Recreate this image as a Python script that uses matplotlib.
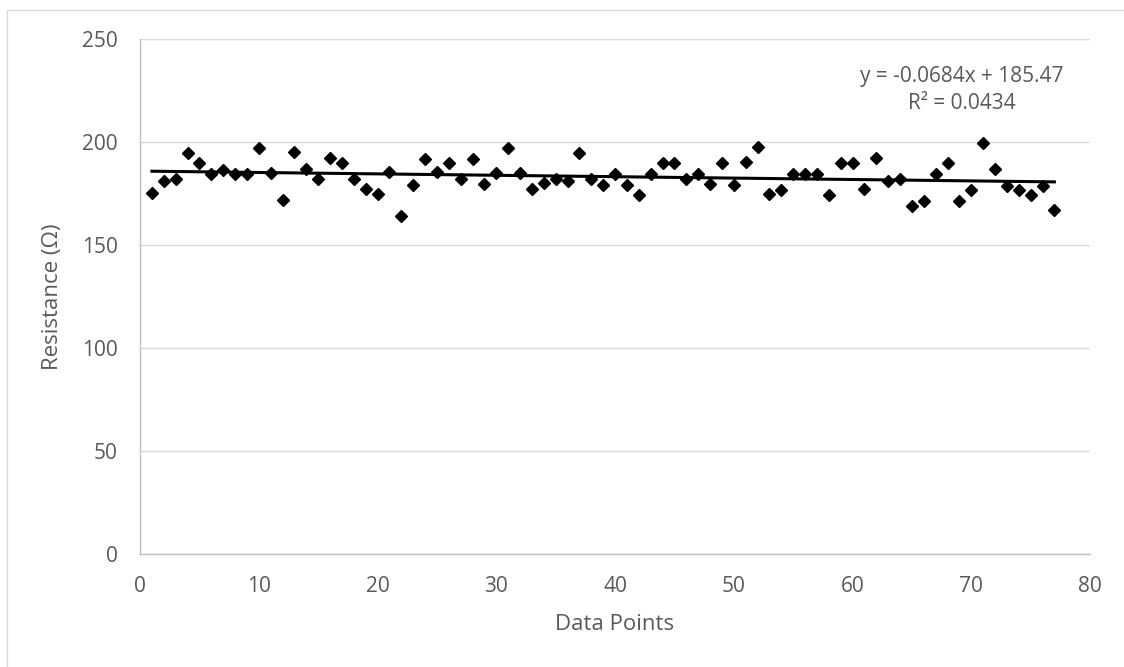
import numpy as np
import matplotlib.pyplot as plt
from matplotlib.patches import Rectangle

plt.rcParams['font.family'] = ['Open Sans', 'DejaVu Sans']

# readings
points = list(range(1, 78))
resistance = [
    175.0, 181.1, 181.8, 194.4, 189.9, 184.2, 186.3, 184.5, 184.2, 197.0,
    184.7, 171.7, 195.1, 187.0, 181.8, 192.0, 189.9, 181.8, 176.9, 174.5,
    185.3, 163.9, 179.3, 191.5, 185.3, 189.9, 182.1, 191.5, 179.7, 184.7,
    197.0, 184.7, 177.2, 180.2, 181.8, 181.1, 194.8, 182.1, 179.3, 184.2,
    179.3, 174.0, 184.5, 189.6, 189.6, 182.1, 184.5, 179.7, 189.9, 179.3,
    190.2, 197.5, 174.8, 176.6, 184.5, 184.5, 184.5, 174.3, 189.9, 189.9,
    176.9, 192.0, 180.9, 181.8, 168.8, 171.2, 184.5, 189.9, 171.5, 176.6,
    199.3, 186.6, 178.8, 176.6, 174.1, 178.8, 166.8,
]
x_ticks = [0, 10, 20, 30, 40, 50, 60, 70, 80]
y_ticks = [0, 50, 100, 150, 200, 250]
fit_label = "y = -0.0684x + 185.47\nR² = 0.0434"

text_col = '#595959'
grid_col = '#D9D9D9'
axis_col = '#BFBFBF'

fig = plt.figure(figsize=(11.24, 6.67), dpi=100)
# light chart border like the Excel chart area
fig.patches.append(Rectangle((7 / 1124, -0.1), 1.2, (667 - 10) / 667 + 0.1,
                             transform=fig.transFigure, fill=False,
                             edgecolor=grid_col, linewidth=1.0))

ax = fig.add_axes([140 / 1124, (667 - 553.5) / 667, 950 / 1124, (553.5 - 39) / 667])

x = np.array(points)
y = np.array(resistance)
slope, intercept = np.polyfit(x, y, 1)

ax.plot(x, y, linestyle='none', marker='D', markersize=6, color='black', zorder=3)
ax.plot([x.min(), x.max()], [slope * x.min() + intercept, slope * x.max() + intercept],
        color='black', linewidth=2.2, zorder=4)

ax.set_xlim(0, 80)
ax.set_ylim(0, 250)
ax.set_xticks(x_ticks)
ax.set_yticks(y_ticks)
ax.grid(axis='y', color=grid_col, linewidth=1.0, zorder=0)
ax.set_axisbelow(True)

for side in ['top', 'right']:
    ax.spines[side].set_visible(False)
for side in ['left', 'bottom']:
    ax.spines[side].set_color(axis_col)
    ax.spines[side].set_linewidth(1.0)

ax.tick_params(axis='both', length=0, labelsize=15, labelcolor=text_col)
ax.tick_params(axis='y', pad=16)
ax.tick_params(axis='x', pad=16)

ax.set_xlabel('Data Points', fontsize=16, color=text_col, va='center')
ax.xaxis.set_label_coords(0.5, (553.5 - 625) / 514.5)
ax.set_ylabel('Resistance (Ω)', fontsize=16, color=text_col, va='center')
ax.yaxis.set_label_coords((53 - 140) / 950, 0.5)

fig.text(962 / 1124, 1 - 90 / 667, fit_label, ha='center', va='center',
         fontsize=15, color=text_col, linespacing=1.4)

fig.savefig('out.png', dpi=100)
